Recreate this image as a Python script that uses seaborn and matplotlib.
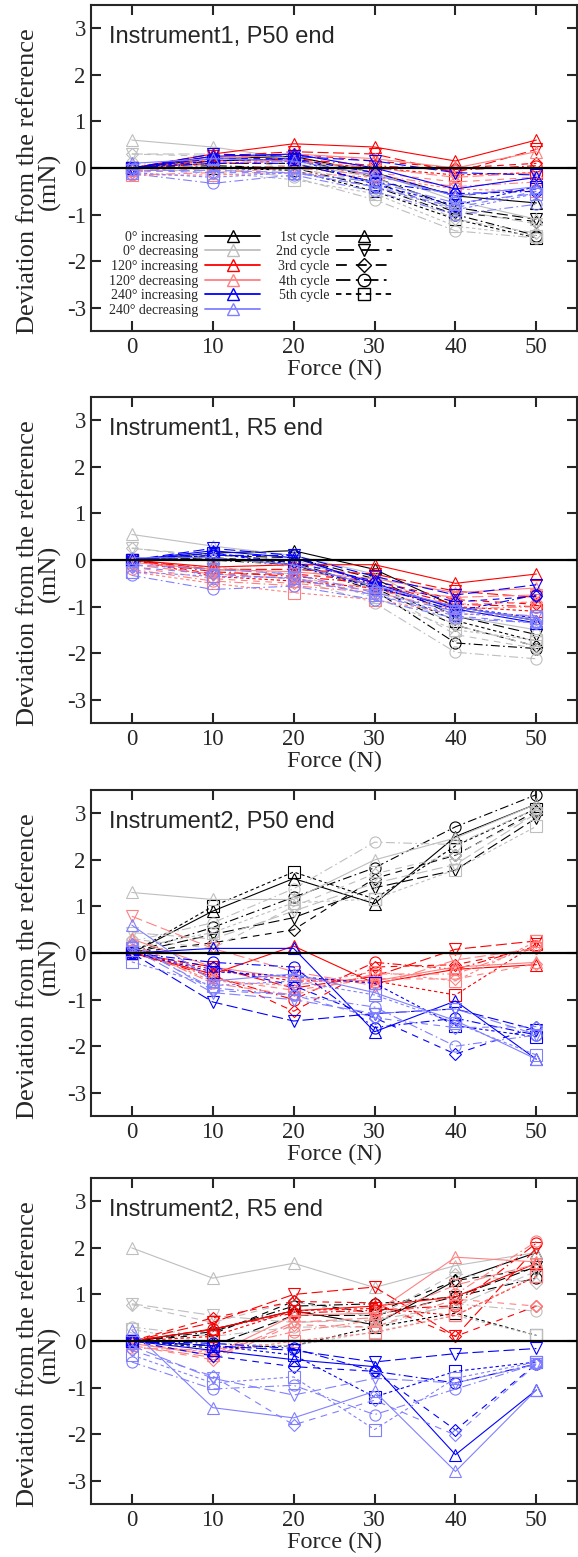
import numpy as np
import pandas as pd
import seaborn as sns
import matplotlib.pyplot as plt
from matplotlib.lines import Line2D

force = [0, 10, 20, 30, 40, 50]
orients = ["0° increasing", "0° decreasing", "120° increasing",
           "120° decreasing", "240° increasing", "240° decreasing"]
cycles = ["1st cycle", "2nd cycle", "3rd cycle", "4th cycle", "5th cycle"]

# Instrument1, P50 end  (5 cycles each)
p1_0inc = [[0, 0.2, 0.25, -0.1, -0.6, -0.75], [0, 0.15, 0.2, -0.2, -0.85, -1.1],
           [0, 0.1, 0.1, -0.3, -0.95, -1.15], [0, 0.05, 0.0, -0.4, -1.0, -1.45],
           [0, 0.0, -0.05, -0.5, -1.1, -1.5]]
p1_0dec = [[0.6, 0.45, 0.2, -0.1, -0.7, -1.1], [0.3, 0.3, 0.1, -0.2, -0.9, -1.2],
           [0.3, 0.25, 0.0, -0.3, -1.1, -1.4], [0.1, 0.0, -0.2, -0.68, -1.35, -1.5],
           [0.0, -0.1, -0.25, -0.55, -1.25, -1.45]]
p1_120inc = [[0, 0.3, 0.52, 0.45, 0.15, 0.6], [0, 0.25, 0.35, 0.3, -0.1, 0.4],
             [0, 0.2, 0.3, 0.15, 0.0, 0.1], [0, 0.15, 0.2, 0.05, -0.05, 0.05],
             [0, 0.1, 0.15, 0.0, -0.15, -0.1]]
p1_120dec = [[-0.05, 0.2, 0.3, 0.2, 0.0, 0.35], [-0.1, 0.1, 0.15, 0.0, -0.2, -0.1],
             [-0.1, 0.0, 0.05, -0.1, -0.3, -0.2], [-0.15, -0.1, 0.0, -0.15, -0.4, -0.3],
             [-0.15, -0.15, -0.1, -0.2, -0.45, -0.5]]
p1_240inc = [[0, 0.25, 0.3, 0.0, -0.45, -0.2], [0, 0.3, 0.25, 0.15, -0.1, -0.15],
             [0, 0.2, 0.2, -0.1, -0.6, -0.45], [0, 0.1, 0.1, -0.3, -0.55, -0.5],
             [0, 0.15, 0.2, -0.35, -0.8, -0.4]]
p1_240dec = [[0.1, 0.2, 0.15, -0.15, -0.6, -0.4], [-0.05, -0.05, -0.1, -0.3, -0.75, -0.55],
             [-0.05, -0.1, -0.1, -0.4, -0.85, -0.5], [-0.12, -0.33, -0.15, -0.5, -1.0, -0.78],
             [-0.1, -0.2, -0.1, -0.4, -0.9, -0.55]]

# Instrument1, R5 end
p2_0inc = [[0, 0.15, 0.2, -0.2, -1.0, -1.3], [0, 0.1, 0.05, -0.4, -1.2, -1.6],
           [0, 0.05, -0.05, -0.6, -1.4, -1.85], [0, 0.0, -0.1, -0.65, -1.78, -1.9],
           [0, 0.05, -0.1, -0.55, -1.3, -1.75]]
p2_0dec = [[0.55, 0.3, 0.1, -0.3, -1.2, -1.5], [0.25, 0.1, 0.0, -0.5, -1.4, -1.85],
           [0.26, 0.05, -0.15, -0.6, -1.6, -1.9], [0.0, -0.2, -0.4, -0.92, -1.98, -2.12],
           [-0.05, -0.15, -0.3, -0.8, -1.5, -1.72]]
p2_120inc = [[0, -0.15, -0.1, -0.1, -0.5, -0.3], [0, -0.2, -0.2, -0.3, -0.67, -0.8],
             [0, -0.3, -0.3, -0.45, -0.85, -0.95], [0, -0.25, -0.35, -0.5, -0.95, -1.0],
             [0, -0.35, -0.45, -0.6, -1.0, -1.1]]
p2_120dec = [[-0.05, -0.2, -0.25, -0.4, -0.7, -0.6], [-0.1, -0.3, -0.4, -0.6, -0.8, -0.75],
             [-0.15, -0.4, -0.5, -0.65, -0.95, -0.9], [-0.2, -0.45, -0.55, -0.7, -1.05, -1.0],
             [-0.25, -0.5, -0.7, -0.85, -1.15, -1.2]]
p2_240inc = [[0, 0.2, 0.05, -0.5, -1.05, -1.35], [0, 0.25, 0.1, -0.35, -0.75, -0.53],
             [0, 0.15, -0.05, -0.45, -0.9, -0.78], [0, 0.1, 0.1, -0.55, -1.1, -0.75],
             [0, 0.15, -0.1, -0.6, -1.0, -1.25]]
p2_240dec = [[0.05, 0.05, -0.1, -0.55, -1.0, -1.3], [-0.1, -0.2, -0.3, -0.7, -1.1, -1.2],
             [-0.15, -0.3, -0.4, -0.75, -1.2, -1.35], [-0.33, -0.63, -0.56, -0.85, -1.25, -1.35],
             [-0.25, -0.35, -0.38, -0.75, -1.15, -1.24]]

# Instrument2, P50 end
p3_0inc = [[0, 0.9, 1.6, 1.06, 2.5, 3.2], [0, 0.4, 0.76, 1.4, 1.78, 2.9],
           [0, 0.22, 0.5, 1.6, 2.1, 3.05], [0, 0.55, 1.2, 1.83, 2.71, 3.4],
           [0, 1.0, 1.74, 1.16, 2.3, 3.1]]
p3_0dec = [[1.3, 1.15, 1.15, 2.0, 2.47, 3.2], [0.44, 0.3, 0.9, 1.5, 1.9, 3.0],
           [0.3, 0.1, 1.0, 1.7, 2.11, 3.0], [0.25, 0.65, 1.38, 2.38, 2.33, 3.1],
           [0.1, 0.44, 1.08, 1.16, 1.79, 2.72]]
p3_120inc = [[0, -0.45, 0.15, -0.65, -0.35, -0.25], [0, -0.3, -0.75, -0.5, 0.08, 0.26],
             [0, -0.45, -1.25, -0.3, -0.25, 0.1], [0, -0.5, -1.0, -0.2, -0.35, 0.15],
             [0, -0.35, -0.6, -0.6, -0.9, 0.2]]
p3_120dec = [[0.3, -0.3, -0.55, -0.6, -0.3, -0.2], [0.79, 0.1, -0.4, -0.7, -0.15, 0.1],
             [0.2, -0.55, -0.8, -0.55, -0.56, -0.23], [0.15, -0.65, -0.9, -0.45, -0.45, 0.15],
             [0.1, -0.6, -0.7, -0.4, -0.6, 0.25]]
p3_240inc = [[0, 0.1, 0.1, -1.69, -1.03, -2.28], [0, -1.05, -1.46, -1.3, -1.2, -1.65],
             [0, -0.3, -0.7, -1.39, -2.17, -1.58], [0, -0.2, -0.3, -1.6, -1.4, -1.76],
             [0, -0.4, -0.5, -0.65, -1.56, -1.8]]
p3_240dec = [[0.6, -0.6, -0.45, -0.85, -1.45, -2.28], [0.1, -0.85, -1.0, -1.3, -1.2, -1.75],
             [0.2, -0.8, -0.9, -1.39, -1.6, -1.58], [0.15, -0.75, -0.9, -1.16, -2.0, -1.76],
             [-0.19, -0.7, -0.6, -0.9, -1.5, -2.19]]

# Instrument2, R5 end
p4_0inc = [[0, 0.25, 0.65, 0.35, 1.3, 1.9], [0, -0.1, 0.55, 0.55, 0.95, 1.6],
           [0, 0.15, 0.85, 0.6, 1.3, 1.55], [0, 0.2, 0.75, 0.8, 0.95, 1.35],
           [0, -0.15, -0.1, 0.3, 0.6, 0.12]]
p4_0dec = [[2.0, 1.35, 1.67, 1.15, 1.62, 1.9], [0.8, 0.55, 0.4, 0.45, 0.75, 1.5],
           [0.78, 0.4, 0.85, 0.5, 1.45, 1.25], [0.3, 0.1, 0.3, 0.3, 0.8, 0.64],
           [0.25, -0.05, -0.1, 0.2, 0.55, 0.12]]
p4_120inc = [[0, 0.25, 0.65, 0.75, 0.95, 1.67], [0, 0.4, 1.0, 1.16, 0.1, 2.0],
             [0, 0.5, 0.85, 0.82, 0.1, 0.75], [0, 0.26, 0.6, 0.66, 0.76, 2.1],
             [0, 0.1, 0.65, 0.7, 0.55, 1.39]]
p4_120dec = [[-0.05, -0.3, 0.55, 0.6, 1.8, 1.7], [-0.1, -0.35, 0.4, 0.5, 1.2, 1.65],
             [-0.1, -0.4, 0.35, 0.3, 0.9, 0.75], [-0.15, -0.2, 0.2, 0.45, 1.0, 2.14],
             [-0.05, -0.25, 0.0, 0.18, 0.55, 1.4]]
p4_240inc = [[0, -0.2, -0.4, -0.55, -2.44, -1.05], [0, -0.1, -0.2, -0.45, -0.27, -0.16],
             [0, -0.32, -0.55, -0.65, -1.91, -0.49], [0, -0.05, -0.16, -0.65, -0.9, -0.49],
             [0, -0.1, -0.3, -1.2, -0.65, -0.45]]
p4_240dec = [[0.23, -1.43, -1.65, -1.08, -2.8, -1.05], [-0.1, -0.8, -1.16, -0.8, -0.9, -0.5],
             [-0.2, -0.75, -1.8, -1.27, -2.02, -0.5], [-0.45, -1.03, -0.95, -1.58, -1.03, -0.49],
             [-0.3, -0.9, -0.77, -1.9, -0.8, -0.45]]

panels = [
    ("Instrument1, P50 end", [p1_0inc, p1_0dec, p1_120inc, p1_120dec, p1_240inc, p1_240dec]),
    ("Instrument1, R5 end", [p2_0inc, p2_0dec, p2_120inc, p2_120dec, p2_240inc, p2_240dec]),
    ("Instrument2, P50 end", [p3_0inc, p3_0dec, p3_120inc, p3_120dec, p3_240inc, p3_240dec]),
    ("Instrument2, R5 end", [p4_0inc, p4_0dec, p4_120inc, p4_120dec, p4_240inc, p4_240dec]),
]

colors = ["black", "#bebebe", "red", "#ff8080", "blue", "#8080ff"]
markers = ["^", "v", "D", "o", "s"]
dashes = ["", (10, 4), (6, 5), (8, 3, 1.5, 3), (3, 2.5)]

sns.set_style("ticks")
plt.rcParams["font.family"] = ["Liberation Serif", "DejaVu Serif"]
plt.rcParams["axes.unicode_minus"] = False

fig = plt.figure(figsize=(5.78, 15.57), dpi=100)
bottoms = [0.7874, 0.5356, 0.2832, 0.034]

for i, ((title, groups), b) in enumerate(zip(panels, bottoms)):
    ax = fig.add_axes([0.158, b, 0.840, 0.2094])
    rows = []
    for o, cyc_list in zip(orients, groups):
        for c, vals in zip(cycles, cyc_list):
            for f, v in zip(force, vals):
                rows.append((f, v, o, c))
    df = pd.DataFrame(rows, columns=["force", "dev", "orient", "cycle"])

    sns.lineplot(data=df, x="force", y="dev", hue="orient", style="cycle",
                 palette=dict(zip(orients, colors)),
                 markers=dict(zip(cycles, markers)),
                 dashes=dict(zip(cycles, dashes)),
                 errorbar=None, lw=0.8, markersize=8, legend=False, ax=ax)
    for ln in ax.lines:
        ln.set_markerfacecolor("none")
        ln.set_markeredgecolor(ln.get_color())
        ln.set_markeredgewidth(0.8)
        if ln.get_marker() == "D":
            ln.set_markersize(6.5)
    ax.axhline(0, color="black", lw=1.6, zorder=5)

    ax.set_xlim(-5, 55)
    ax.set_ylim(-3.5, 3.5)
    ax.set_xticks(force)
    ax.set_yticks([-3, -2, -1, 0, 1, 2, 3])
    ax.tick_params(direction="in", length=7, width=1.5, top=True, right=True,
                   labelsize=16.5, pad=4)
    for s in ax.spines.values():
        s.set_linewidth(1.5)
    ax.set_xlabel("Force (N)", fontsize=17.5, labelpad=1)
    ax.set_ylabel("Deviation from the reference\n(mN)", fontsize=19,
                  linespacing=0.95)
    ax.yaxis.set_label_coords(-0.062, 0.46)
    ax.text(0.037, 0.935, title, transform=ax.transAxes, ha="left", va="top",
            fontsize=17, family="Liberation Sans")

    if i == 0:
        h1 = [Line2D([], [], color=col, lw=1.3, marker="^", markersize=9,
                     mfc="none", mec=col, mew=1.0) for col in colors]
        h2 = []
        for m, d in zip(markers, dashes):
            kw = dict(dashes=d) if d else dict(ls="-")
            h2.append(Line2D([], [], color="black", lw=1.3, marker=m,
                             markersize=7.5 if m == "D" else 9, mfc="none",
                             mec="black", mew=1.0, **kw))
        blank = Line2D([], [], alpha=0)
        leg = ax.legend(h1 + h2 + [blank], orients + cycles + [""], ncol=2,
                        loc="lower left", bbox_to_anchor=(0.01, 0.005),
                        frameon=False, markerfirst=False, fontsize=10,
                        handlelength=4.0, labelspacing=0.12, columnspacing=1.1,
                        handletextpad=0.5, borderpad=0.4)

fig.savefig("out.png", dpi=100)
